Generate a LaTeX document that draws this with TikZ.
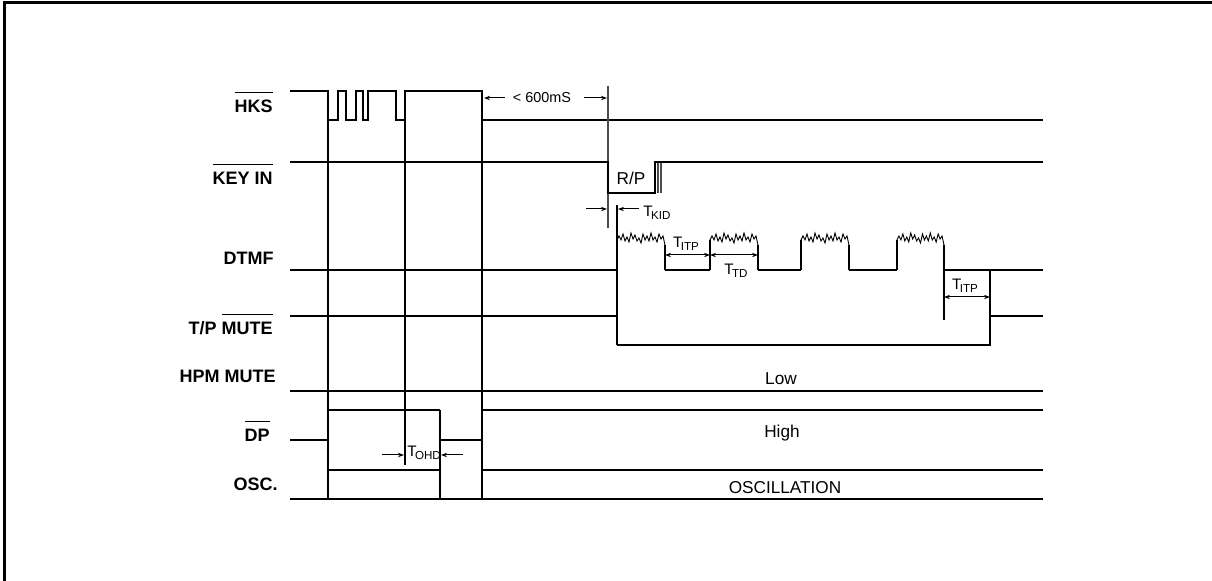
\documentclass[tikz,border=0pt]{standalone}
\usepackage{fontspec}
\setmainfont{Liberation Sans}
\usepackage{pgf,tikz}
\usetikzlibrary{arrows.meta}
\tikzstyle{signal}=[draw,line width=0.55pt]
\tikzstyle{marker}=[draw,line width=0.8pt,black!70]
\tikzstyle{noise}=[draw,line width=0.45pt,line join=miter]
\tikzstyle{siglabel}=[font=\fontsize{9}{10}\selectfont\bfseries,anchor=base east,inner sep=0pt]
\tikzstyle{levtext}=[font=\fontsize{8.6}{10}\selectfont,anchor=base,inner sep=0pt]
\tikzstyle{timing}=[font=\fontsize{7.6}{9}\selectfont,anchor=base,inner sep=0pt]
\tikzstyle{dimarrow}=[draw,line width=0.5pt,-{Stealth[length=3pt,width=2.2pt]}]
\tikzstyle{dimboth}=[draw,line width=0.5pt,{Stealth[length=3pt,width=2.2pt]}-{Stealth[length=3pt,width=2.2pt]}]
\newcommand{\ovl}[1]{\vbox{\hrule height 0.5pt\kern 3.6pt\hbox{#1}}}
\newcommand{\tsub}[1]{T\kern-0.8pt\raisebox{-0.35ex}{\fontsize{5.8}{6}\selectfont #1}}

\begin{document}
\begin{tikzpicture}[x=0.5pt,y=-0.5pt]
    \useasboundingbox (0,0) rectangle (1212,581);
    % frame
    \draw[line width=1.5pt] (4,581) -- (4,3) -- (1212,3);
    % signal names
    \foreach \pos/\name/\txt in {{(273,113)/hks/\ovl{HKS}}, {(273,185)/keyin/\ovl{KEY IN}},
        {(274,265)/dtmf/DTMF}, {(273,335)/tpmute/T\slash P \ovl{MUTE}},
        {(276,383)/hpmmute/HPM MUTE}, {(270,442)/dp/\ovl{DP}}, {(278,491)/osc/OSC.}}
        \node[siglabel] (\name) at \pos {\txt};
    % HKS
    \draw[signal] (290,91) -- (328,91) -- (328,120) -- (338,120) -- (338,91) -- (346,91)
        -- (346,120) -- (356,120) -- (356,91) -- (363,91) -- (363,120) -- (368,120)
        -- (368,91) -- (396,91) -- (396,120) -- (405,120) -- (405,91) -- (482,91)
        -- (482,120) -- (1043,120);
    % long edges
    \draw[signal] (328,120) -- (328,499);
    \draw[signal] (405,120) -- (405,465);
    \draw[signal] (482,120) -- (482,499);
    \draw[signal] (440,410) -- (440,499);
    \draw[marker] (608,86) -- (608,228);
    % KEY IN
    \draw[signal] (290,162) -- (608,162) -- (608,193) -- (655,193) -- (655,162) -- (1043,162);
    \foreach \x in {658,661}
        \draw[marker,line width=0.7pt] (\x,193) -- (\x,163);
    % DTMF
    \draw[signal] (290,270) -- (617,270);
    \draw[signal] (617,205) -- (617,345);
    \foreach \a/\b in {617/665, 710/758, 801/849, 897/944} {
        \draw[noise] (\a,240) \foreach \dy [count=\i] in {-3,1,-5,2,-2,3,-6,0,-4,2,-1,4,
            -5,1,-3,2,-6,1,-2,3,-5,0,-3,6} { -- ({\a+\i*(\b-\a)/24},{239+\dy}) };
        \draw[signal] (\a,270) -- (\a,240);
        \draw[signal] (\b,245) -- (\b,270);
    }
    \foreach \a/\b in {665/710, 758/801, 849/897, 944/1043}
        \draw[signal] (\a,270) -- (\b,270);
    \draw[signal] (944,270) -- (944,320);
    \draw[signal] (990,270) -- (990,345);
    % T/P MUTE
    \draw[signal] (290,316) -- (617,316);
    \draw[signal] (617,345) -- (990,345) -- (990,316) -- (1043,316);
    % HPM MUTE
    \draw[signal] (290,391) -- (1043,391);
    % DP
    \draw[signal] (290,440) -- (328,440);
    \draw[signal] (328,410) -- (440,410);
    \draw[signal] (440,440) -- (482,440);
    \draw[signal] (482,410) -- (1043,410);
    % OSC
    \draw[signal] (328,470) -- (440,470);
    \draw[signal] (482,470) -- (1043,470);
    \draw[signal] (290,499) -- (1043,499);
    % levels
    \node[levtext] (low) at (781,385) {Low};
    \node[levtext] (high) at (782,438) {High};
    \node[levtext] (oscill) at (785,494) {OSCILLATION};
    \node[levtext] (rp) at (631,185) {R/P};
    % timings
    \node[timing,font=\fontsize{7.2}{9}\selectfont] (t600) at (542,103) {< 600mS};
    \coordinate (hksend) at (484,98);
    \coordinate (keyend) at (607,98);
    \draw[dimarrow] (505,98) -- (hksend);
    \draw[dimarrow] (584,98) -- (keyend);
    \node[timing,anchor=base west] (tkid) at (643,217) {\tsub{KID}};
    \draw[dimarrow] (586,209) -- (607,209);
    \draw[dimarrow] (639,209) -- (618,209);
    \node[timing] (titp) at (686,248) {\tsub{ITP}};
    \draw[dimboth] (665,255) -- (710,255);
    \node[timing] (ttd) at (736,275) {\tsub{TD}};
    \draw[dimboth] (710,255) -- (758,255);
    \node[timing] (titpb) at (965,290) {\tsub{ITP}};
    \draw[dimboth] (944,297) -- (990,297);
    \node[timing,anchor=base west] (tohd) at (407,457) {\tsub{OHD}};
    \draw[dimarrow] (382,455) -- (404,455);
    \draw[dimarrow] (463,455) -- (441,455);
\end{tikzpicture}
\end{document}
